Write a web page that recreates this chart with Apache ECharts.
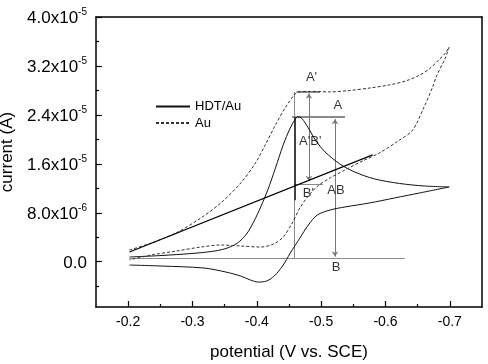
<!DOCTYPE html>
<html>
<head>
<meta charset="utf-8">
<script src="https://cdn.jsdelivr.net/npm/echarts@6/dist/echarts.min.js"></script>
<style>html,body{margin:0;padding:0;background:#fff}#c{width:488px;height:364px}</style>
</head>
<body>
<div id="c"></div>
<script>
// ---- data (potential in V, current in µA) ----
const potentialTicks = [-0.2, -0.3, -0.4, -0.5, -0.6, -0.7];
const potentialMinorTicks = [-0.25, -0.35, -0.45, -0.55, -0.65];
const currentTicks = [0, 8, 16, 24, 32, 40];
const currentMinorTicks = [-4, 4, 12, 20, 28, 36];

// Au (dashed) forward sweep
const auFwdV = [-0.202,-0.236,-0.2745,-0.313,-0.344,-0.375,-0.398,-0.413,-0.429,-0.444,-0.457,-0.464,-0.483,-0.514,-0.545,-0.576,-0.606,-0.633,-0.653,-0.668,-0.683,-0.693,-0.699];
const auFwdI = [1.91,3.06,4.70,7.15,9.60,12.87,16.15,19.09,22.36,25.15,27.11,27.76,27.84,27.76,28.0,28.4,28.9,29.6,30.5,31.5,33.0,34.1,35.1];
// Au return sweep
const auRevV = [-0.699,-0.693,-0.680,-0.673,-0.660,-0.642,-0.619,-0.591,-0.565,-0.537,-0.514,-0.495,-0.480,-0.467,-0.455,-0.441,-0.426,-0.406,-0.375,-0.344,-0.313,-0.275,-0.236,-0.202];
const auRevI = [35.1,33.3,30.5,28.5,25.3,21.5,19.7,17.8,16.5,15.0,13.7,12.4,10.76,8.79,6.33,4.04,2.90,2.40,2.57,2.73,2.40,1.75,1.10,0.30];
// HDT/Au (solid) forward sweep
const hdtFwdV = [-0.202,-0.251,-0.298,-0.329,-0.352,-0.370,-0.384,-0.395,-0.406,-0.417,-0.429,-0.441,-0.452,-0.460,-0.464,-0.470,-0.480,-0.491,-0.506,-0.529,-0.552,-0.583,-0.622,-0.660,-0.699];
const hdtFwdI = [0.77,1.01,1.34,1.67,2.16,3.06,4.53,6.50,8.95,11.73,15.33,19.09,21.87,23.35,23.68,23.43,21.87,19.91,17.95,15.98,14.67,13.53,12.79,12.38,12.22];
// HDT/Au return sweep
const hdtRevV = [-0.699,-0.653,-0.614,-0.575,-0.537,-0.514,-0.494,-0.480,-0.467,-0.452,-0.440,-0.427,-0.415,-0.402,-0.390,-0.375,-0.352,-0.318,-0.251,-0.202];
const hdtRevI = [12.22,11.24,10.42,9.60,8.95,8.46,7.64,6.0,3.88,1.42,-0.70,-2.34,-3.16,-3.32,-2.99,-2.34,-1.69,-1.03,-0.70,-0.54];
// tangent baseline
const tangentV = [-0.202, -0.580];
const tangentI = [1.59, 17.46];

// annotation segments [V1, I1, V2, I2]
const greySegments = [
  [-0.462, 27.76, -0.498, 27.76],
  [-0.455, 23.62, -0.537, 23.62],
  [-0.202, 0.52, -0.630, 0.52],
  [-0.4583, 27.76, -0.4583, 23.62],
  [-0.4583, 10.06, -0.4583, 0.52],
  [-0.4583, 12.7, -0.503, 12.7]
];
const blackSegments = [
  [-0.4583, 23.62, -0.4583, 10.06]
];
const arrowSegments = [
  [-0.481, 27.5, -0.481, 13.2],
  [-0.5215, 23.3, -0.5215, 0.85]
];
const labelTexts = ["A'", "A", "A'B'", "B'", "AB", "B"];
const labelV = [-0.485, -0.526, -0.483, -0.480, -0.523, -0.523];
const labelI = [30.2, 25.5, 19.6, 11.2, 11.7, -1.0];

const FONT = 'Liberation Sans, Arial, Helvetica, sans-serif';
const zip = (a, b) => a.map((v, i) => [v, b[i]]);
const seg = s => ({ coords: [[s[0], s[1]], [s[2], s[3]]] });

const xMin = -0.75, xMax = -0.15, yMin = -7.4, yMax = 40;
const baseX = {
  type: 'value', min: xMin, max: xMax, inverse: true, splitLine: { show: false },
  axisLine: { onZero: false, lineStyle: { color: '#000', width: 1.5 } }
};
const baseY = {
  type: 'value', min: yMin, max: yMax, splitLine: { show: false },
  axisLine: { onZero: false, lineStyle: { color: '#000', width: 1.5 } }
};

const chart = echarts.init(document.getElementById('c'), null, { renderer: 'canvas' });
chart.setOption({
  animation: false,
  backgroundColor: '#fff',
  grid: { left: 96, right: 6, top: 17, bottom: 57, containLabel: false, outerBoundsMode: 'none' },
  legend: {
    data: ['HDT/Au', 'Au'], orient: 'vertical', left: 155, top: 100, padding: 0,
    itemWidth: 34, itemHeight: 14, itemGap: 3.5,
    itemStyle: { opacity: 0, color: 'rgba(0,0,0,0)', borderWidth: 0 },
    textStyle: { fontFamily: FONT, fontSize: 13, color: '#000' }
  },
  xAxis: [
    Object.assign({}, baseX, {
      position: 'bottom',
      axisTick: { inside: true, length: 6, customValues: potentialTicks, lineStyle: { color: '#000', width: 1.2 } },
      axisLabel: { customValues: potentialTicks, margin: 8, fontFamily: FONT, fontSize: 14, color: '#000', formatter: v => v.toFixed(1) },
      name: 'potential (V vs. SCE)', nameLocation: 'middle', nameGap: 37,
      nameTextStyle: { fontFamily: FONT, fontSize: 17, color: '#000' }
    }),
    Object.assign({}, baseX, {
      position: 'bottom', axisLine: { show: false, onZero: false },
      axisTick: { inside: true, length: 3, customValues: potentialMinorTicks, lineStyle: { color: '#000', width: 1.2 } },
      axisLabel: { show: false }
    }),
    Object.assign({}, baseX, { position: 'top', axisTick: { show: false }, axisLabel: { show: false } })
  ],
  yAxis: [
    Object.assign({}, baseY, {
      position: 'left',
      axisTick: { inside: true, length: 6, customValues: currentTicks, lineStyle: { color: '#000', width: 1.2 } },
      axisLabel: {
        customValues: currentTicks, margin: 9, color: '#000',
        formatter: v => {
          if (Math.abs(v) < 1e-9) return '{m|0.0}';
          const a = v * 1e-6;
          const e = Math.floor(Math.log10(a) + 1e-9);
          const m = a / Math.pow(10, e);
          return '{m|' + m.toFixed(1) + 'x10}{s|' + e + '}';
        },
        rich: {
          m: { fontFamily: FONT, fontSize: 17, color: '#000', lineHeight: 20, verticalAlign: 'bottom' },
          s: { fontFamily: FONT, fontSize: 10, color: '#000', lineHeight: 11, verticalAlign: 'top' }
        }
      },
      name: 'current (A)', nameLocation: 'middle', nameGap: 73, nameRotate: 90,
      nameTextStyle: { fontFamily: FONT, fontSize: 17, color: '#000', padding: [0, 0, 0, 20] }
    }),
    Object.assign({}, baseY, {
      position: 'left', axisLine: { show: false, onZero: false },
      axisTick: { inside: true, length: 3, customValues: currentMinorTicks, lineStyle: { color: '#000', width: 1.2 } },
      axisLabel: { show: false }
    }),
    Object.assign({}, baseY, { position: 'right', axisTick: { show: false }, axisLabel: { show: false } })
  ],
  series: [
    { name: 'HDT/Au', type: 'line', data: zip(hdtFwdV, hdtFwdI), smooth: 0.3, symbol: 'none',
      lineStyle: { color: '#111', width: 1 }, itemStyle: { color: '#111' } },
    { name: 'HDT/Au', type: 'line', data: zip(hdtRevV, hdtRevI), smooth: 0.3, symbol: 'none',
      lineStyle: { color: '#111', width: 1 }, itemStyle: { color: '#111' } },
    { name: 'Au', type: 'line', data: zip(auFwdV, auFwdI), smooth: 0.3, symbol: 'none',
      lineStyle: { color: '#333', width: 1, type: [3, 2] }, itemStyle: { color: '#333' } },
    { name: 'Au', type: 'line', data: zip(auRevV, auRevI), smooth: 0.3, symbol: 'none',
      lineStyle: { color: '#333', width: 1, type: [3, 2] }, itemStyle: { color: '#333' } },
    { name: 'tangent', type: 'line', data: zip(tangentV, tangentI), symbol: 'none',
      lineStyle: { color: '#000', width: 1.2 } },
    { name: 'grey', type: 'lines', coordinateSystem: 'cartesian2d', data: greySegments.map(seg),
      lineStyle: { color: '#8a8a8a', width: 1, opacity: 1 } },
    { name: 'greyThick', type: 'lines', coordinateSystem: 'cartesian2d', data: greySegments.slice(0, 2).map(seg),
      lineStyle: { color: '#8a8a8a', width: 2, opacity: 1 } },
    { name: 'black', type: 'lines', coordinateSystem: 'cartesian2d', data: blackSegments.map(seg),
      lineStyle: { color: '#000', width: 1.5, opacity: 1 } },
    { name: 'arrows', type: 'lines', coordinateSystem: 'cartesian2d', data: arrowSegments.map(seg),
      symbol: ['arrow', 'arrow'], symbolSize: 5,
      lineStyle: { color: '#777', width: 1, opacity: 1 } },
    { name: 'labels', type: 'scatter', symbolSize: 1, itemStyle: { color: 'rgba(0,0,0,0)' },
      data: labelV.map((v, i) => [v, labelI[i], labelTexts[i]]),
      label: { show: true, position: 'inside', formatter: p => p.data[2],
        fontFamily: FONT, fontSize: 13, color: '#000' } }
  ]
});
</script>
</body>
</html>
